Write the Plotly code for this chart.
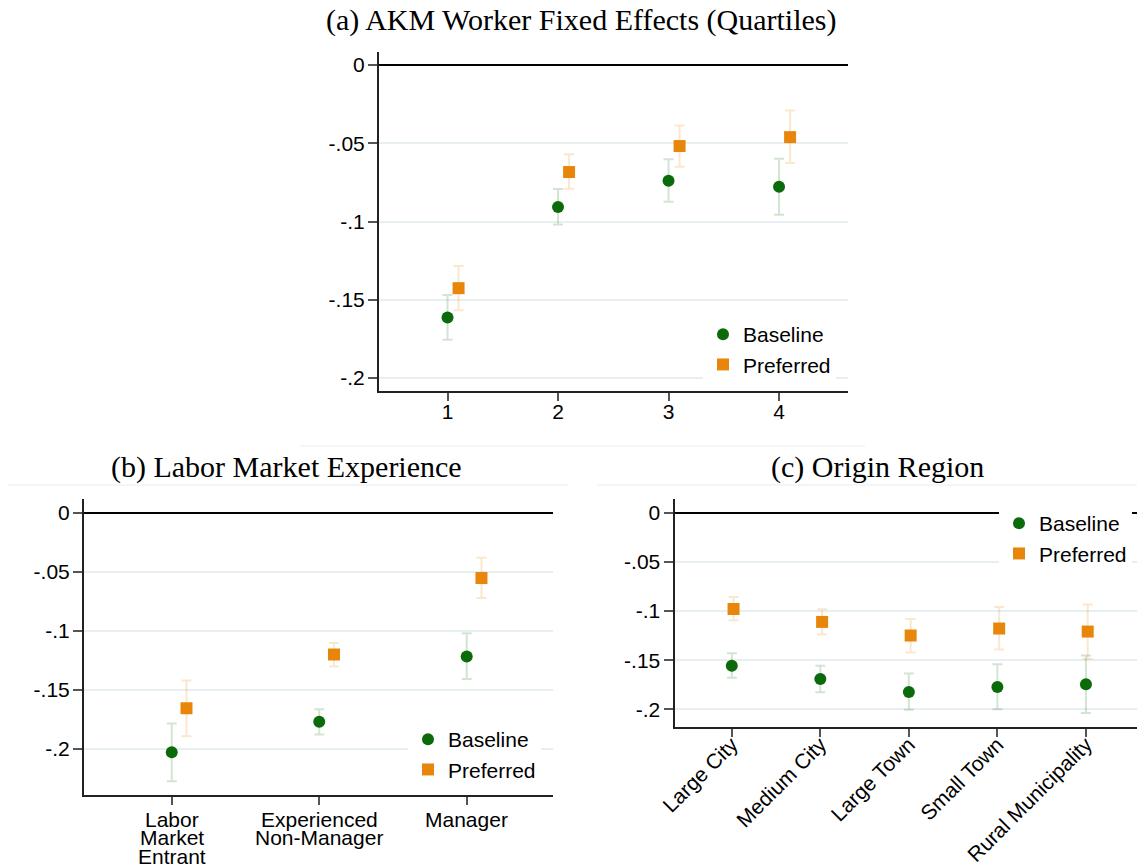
import plotly.graph_objects as go

# page offset (browser default body margin) and figure size
OFF = 8
FW, FH = 1145 - OFF, 867 - OFF

# ---------------- data ----------------
quartiles = ["1", "2", "3", "4"]
a_base = [-0.1614, -0.0908, -0.0740, -0.0778]
a_base_lo = [-0.1755, -0.1019, -0.0874, -0.0957]
a_base_hi = [-0.1469, -0.0793, -0.0603, -0.0599]
a_pref = [-0.1426, -0.0684, -0.0518, -0.0461]
a_pref_lo = [-0.1567, -0.0791, -0.0650, -0.0627]
a_pref_hi = [-0.1284, -0.0571, -0.0386, -0.0290]

experience = ["Labor<br>Market<br>Entrant", "Experienced<br>Non-Manager", "Manager"]
b_base = [-0.2028, -0.1770, -0.1217]
b_base_lo = [-0.2272, -0.1877, -0.1408]
b_base_hi = [-0.1784, -0.1663, -0.1021]
b_pref = [-0.1655, -0.1200, -0.0553]
b_pref_lo = [-0.1891, -0.1302, -0.0721]
b_pref_hi = [-0.1419, -0.1102, -0.0381]

regions = ["Large City", "Medium City", "Large Town", "Small Town", "Rural Municipality"]
c_base = [-0.1556, -0.1690, -0.1822, -0.1771, -0.1744]
c_base_lo = [-0.1677, -0.1825, -0.2003, -0.1997, -0.2037]
c_base_hi = [-0.1428, -0.1556, -0.1636, -0.1542, -0.1451]
c_pref = [-0.0980, -0.1111, -0.1249, -0.1178, -0.1209]
c_pref_lo = [-0.1094, -0.1239, -0.1421, -0.1391, -0.1488]
c_pref_hi = [-0.0859, -0.0983, -0.1081, -0.0960, -0.0933]

y_tickvals = [0, -0.05, -0.1, -0.15, -0.2]
y_ticktext = ["0", "-.05", "-.1", "-.15", "-.2"]

series_names = ["Baseline", "Preferred"]

# ---------------- style ----------------
GREEN = "#0b6b0b"
ORANGE = "#e8860c"
GREEN_CI = "rgba(11,107,11,0.18)"
ORANGE_CI = "rgba(232,134,12,0.20)"
SANS = "Liberation Sans, Arial, sans-serif"
SERIF = "Liberation Serif, Times New Roman, serif"
GRID = "#e8eff2"
TICK_SIZE = 21


def px_x(p):
    return (p - OFF) / FW


def px_y(p):
    return 1 - (p - OFF) / FH


def add_pair(fig, n, base, blo, bhi, pref, plo, phi, xa, ya, legend, offset):
    xs = list(range(1, n + 1))
    fig.add_trace(go.Scatter(
        x=xs, y=base, mode="markers", name=series_names[0],
        xaxis=xa, yaxis=ya, legend=legend,
        marker=dict(symbol="circle", size=12, color=GREEN),
        error_y=dict(type="data", symmetric=False,
                     array=[h - v for h, v in zip(bhi, base)],
                     arrayminus=[v - l for l, v in zip(blo, base)],
                     color=GREEN_CI, thickness=2, width=5),
    ))
    fig.add_trace(go.Scatter(
        x=[x + offset for x in xs], y=pref, mode="markers", name=series_names[1],
        xaxis=xa, yaxis=ya, legend=legend,
        marker=dict(symbol="square", size=12, color=ORANGE),
        error_y=dict(type="data", symmetric=False,
                     array=[h - v for h, v in zip(phi, pref)],
                     arrayminus=[v - l for l, v in zip(plo, pref)],
                     color=ORANGE_CI, thickness=2, width=5),
    ))


fig = go.Figure()
add_pair(fig, len(quartiles), a_base, a_base_lo, a_base_hi, a_pref, a_pref_lo, a_pref_hi,
         "x", "y", "legend", 0.1)
add_pair(fig, len(experience), b_base, b_base_lo, b_base_hi, b_pref, b_pref_lo, b_pref_hi,
         "x2", "y2", "legend2", 0.1)
add_pair(fig, len(regions), c_base, c_base_lo, c_base_hi, c_pref, c_pref_lo, c_pref_hi,
         "x3", "y3", "legend3", 0.02)


def xaxis(domain, rng, labels, anchor, angle=0, show_labels=True, standoff=-7):
    return dict(domain=domain, range=rng, anchor=anchor, automargin=False,
                tickmode="array", tickvals=list(range(1, len(labels) + 1)), ticktext=labels,
                tickangle=angle, showticklabels=show_labels, ticklabelstandoff=standoff,
                showline=True, linecolor="#222222", linewidth=2,
                ticks="outside", ticklen=8, tickwidth=2, tickcolor="#555555",
                showgrid=False, zeroline=False,
                tickfont=dict(family=SANS, size=TICK_SIZE, color="black"))


def yaxis(domain, rng, anchor):
    return dict(domain=domain, range=rng, anchor=anchor, automargin=False,
                tickmode="array", tickvals=y_tickvals, ticktext=y_ticktext,
                ticklabelstandoff=-1,
                showline=True, linecolor="#222222", linewidth=2,
                ticks="outside", ticklen=9, tickwidth=2, tickcolor="#555555",
                showgrid=True, gridcolor=GRID, gridwidth=2,
                zeroline=True, zerolinecolor="black", zerolinewidth=2,
                tickfont=dict(family=SANS, size=TICK_SIZE, color="black"))


def legend(x, y):
    return dict(x=px_x(x), y=px_y(y), xanchor="left", yanchor="top",
                bgcolor="white", borderwidth=0,
                font=dict(family=SANS, size=TICK_SIZE, color="black"),
                itemwidth=30, tracegroupgap=0)


annotations = [
    dict(text="(a) AKM Worker Fixed Effects (Quartiles)", x=px_x(581), y=px_y(20),
         xref="paper", yref="paper", showarrow=False, xanchor="center", yanchor="middle",
         font=dict(family=SERIF, size=30, color="black")),
    dict(text="(b) Labor Market Experience", x=px_x(286), y=px_y(467),
         xref="paper", yref="paper", showarrow=False, xanchor="center", yanchor="middle",
         font=dict(family=SERIF, size=30, color="black")),
    dict(text="(c) Origin Region", x=px_x(877), y=px_y(467),
         xref="paper", yref="paper", showarrow=False, xanchor="center", yanchor="middle",
         font=dict(family=SERIF, size=30, color="black")),
]

# panel (b) category labels: tightly stacked lines under each tick (Stata-like spacing)
for i, lab in enumerate(experience):
    for j, line in enumerate(lab.split("<br>")):
        annotations.append(dict(
            text=line, x=i + 1, xref="x2", y=px_y(795), yref="paper",
            yshift=-(24 + 18.5 * j), showarrow=False, xanchor="center", yanchor="middle",
            font=dict(family=SANS, size=TICK_SIZE, color="black")))

fig.update_layout(
    template="none",
    width=FW, height=FH,
    margin=dict(l=0, r=0, t=0, b=0, autoexpand=False),
    paper_bgcolor="white", plot_bgcolor="white",
    showlegend=True,
    xaxis=xaxis([px_x(379), px_x(848)], [0.38, 4.624], quartiles, "y"),
    yaxis=yaxis([px_y(391), px_y(52)], [-0.2083, 0.0083], "x"),
    xaxis2=xaxis([px_x(84), px_x(553)], [0.405, 3.585], experience, "y2", show_labels=False),
    yaxis2=yaxis([px_y(795), px_y(499)], [-0.2389, 0.0116], "x2"),
    xaxis3=xaxis([px_x(674.5), 1.0], [0.353, 5.667], regions, "y3", angle=-45, standoff=-13),
    yaxis3=yaxis([px_y(727), px_y(499.3)], [-0.2178, 0.0134], "x3"),
    legend=legend(703, 314),
    legend2=legend(408, 719),
    legend3=legend(999, 503),
    annotations=annotations,
    shapes=[
        dict(type="line", xref="paper", yref="paper", x0=px_x(300), x1=px_x(865),
             y0=px_y(446), y1=px_y(446), line=dict(color="#f0f2f3", width=1.5)),
        dict(type="line", xref="paper", yref="paper", x0=px_x(8), x1=px_x(568),
             y0=px_y(485), y1=px_y(485), line=dict(color="#f0f2f3", width=1.5)),
        dict(type="line", xref="paper", yref="paper", x0=px_x(597), x1=1.0,
             y0=px_y(485), y1=px_y(485), line=dict(color="#f0f2f3", width=1.5)),
    ],
)

fig.write_html("out.html")
